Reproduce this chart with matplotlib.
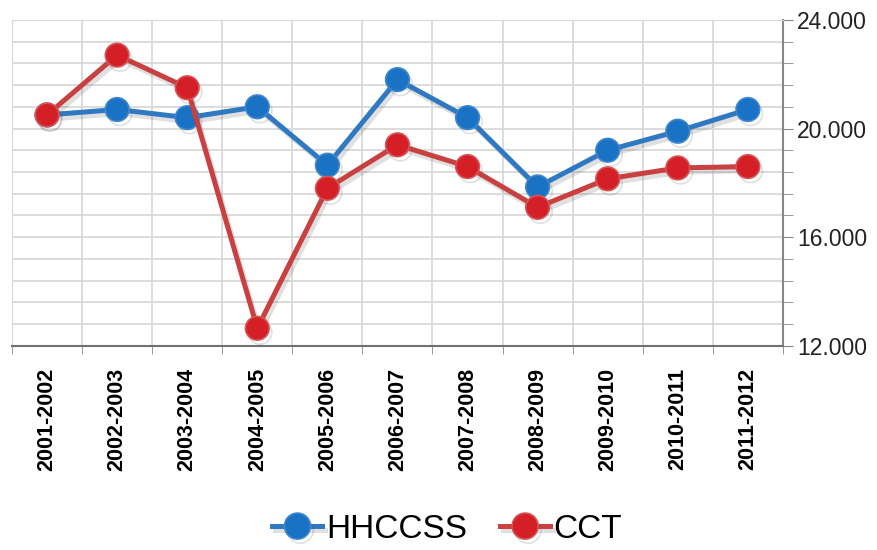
import numpy as np
import matplotlib.pyplot as plt
import matplotlib.patheffects as pe
from matplotlib.ticker import MultipleLocator, FuncFormatter

periodos = ['2001-2002', '2002-2003', '2003-2004', '2004-2005', '2005-2006', '2006-2007',
            '2007-2008', '2008-2009', '2009-2010', '2010-2011', '2011-2012']
hhccss = [20500, 20700, 20400, 20800, 18650, 21800, 20400, 17850, 19200, 19900, 20700]
cct = [20500, 22700, 21500, 12650, 17800, 19400, 18600, 17100, 18150, 18550, 18600]

fig = plt.figure(figsize=(8.77, 5.5), dpi=100)
ax = fig.add_axes([0.0137, 0.371, 0.879, 0.593])

x = np.arange(len(periodos))
sombra = [pe.SimpleLineShadow(offset=(2, -3), shadow_color='#555555', alpha=0.18, rho=0.3), pe.Normal()]

ax.plot(x, hhccss, color='#2f78c2', lw=3.6, marker='o', ms=17, mfc='#1a72c4',
        mec='#3f86cc', mew=1.2, label='HHCCSS', path_effects=sombra, zorder=3)
ax.plot(x, cct, color='#c8403f', lw=3.6, marker='o', ms=17, mfc='#d41f26',
        mec='#d65456', mew=1.2, label='CCT', path_effects=sombra, zorder=4)

ax.set_xlim(-0.5, len(periodos) - 0.5)
ax.set_ylim(12000, 24000)

ax.yaxis.tick_right()
ax.yaxis.set_major_locator(MultipleLocator(4000))
ax.yaxis.set_minor_locator(MultipleLocator(800))
ax.yaxis.set_major_formatter(FuncFormatter(lambda v, p: f'{int(v/1000)}.000'))
ax.tick_params(axis='y', which='both', length=7, color='#888888', labelsize=16.5,
               labelcolor='#222222', pad=3)
for t in ax.get_yticklabels():
    t.set_family(['Liberation Sans', 'DejaVu Sans'])

ax.set_xticks(x)
ax.set_xticklabels(periodos, rotation=90, fontsize=15.5, fontweight='bold',
                   family=['Liberation Sans', 'DejaVu Sans'])
ax.set_xticks(np.arange(-0.5, len(periodos)), minor=True)
ax.tick_params(axis='x', which='major', length=0, pad=16)
ax.tick_params(axis='x', which='minor', length=6, color='#888888')

ax.grid(True, which='minor', color='#d6d6d6', lw=1.2)
ax.grid(False, which='major', axis='x')
ax.grid(True, which='major', axis='y', color='#d6d6d6', lw=1.2)
ax.set_axisbelow(True)

ax.spines['top'].set_color('#d6d6d6')
ax.spines['left'].set_color('#d6d6d6')
ax.spines['right'].set_color('#888888')
ax.spines['right'].set_linewidth(1.5)
ax.spines['bottom'].set_color('#707070')
ax.spines['bottom'].set_linewidth(1.5)

fig.legend(loc='lower center', bbox_to_anchor=(0.51, -0.045), ncol=2, frameon=False,
           prop={'family': ['Liberation Sans', 'DejaVu Sans'], 'size': 24},
           handlelength=1.5, handletextpad=0.1, columnspacing=1.0, markerscale=1.1)

fig.savefig('out.png', dpi=100)
